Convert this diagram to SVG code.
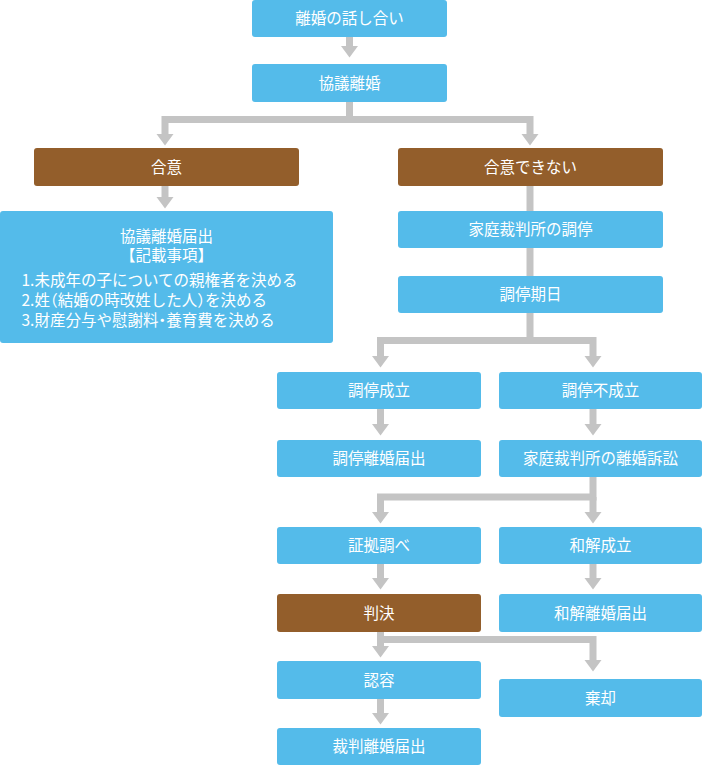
<svg xmlns="http://www.w3.org/2000/svg" width="702" height="766" viewBox="0 0 702 766">
<style>
.b{fill:#54BBEA}
.r{fill:#935E2B}
.t{fill:#ffffff;font-family:"Noto Sans CJK JP","Noto Sans",sans-serif;font-size:15.5px;text-anchor:middle}
.l{text-anchor:start}
.h{font-feature-settings:"halt"}
.c{fill:none;stroke:#C4C4C4;stroke-width:7;stroke-linejoin:miter}
</style>
<defs>
<marker id="ah" markerUnits="userSpaceOnUse" markerWidth="13" markerHeight="18" refX="1" refY="8.5" orient="auto" overflow="visible">
<path d="M0,0 L11.5,8.5 L0,17 z" fill="#C4C4C4"/>
</marker>
</defs>
<g id="connectors">
<path class="c" d="M349.5,37 V47" marker-end="url(#ah)"/>
<path class="c" d="M349.5,102 V119.5 H165 V135" marker-end="url(#ah)"/>
<path class="c" d="M349.5,119.5 H530 V135" marker-end="url(#ah)"/>
<path class="c" d="M165,186 V198" marker-end="url(#ah)"/>
<path class="c" d="M530,186 V211"/>
<path class="c" d="M530,248 V276"/>
<path class="c" d="M530,313 V340.5 H380.5 V357" marker-end="url(#ah)"/>
<path class="c" d="M530,340.5 H593 V357" marker-end="url(#ah)"/>
<path class="c" d="M380.5,409 V425" marker-end="url(#ah)"/>
<path class="c" d="M593,409 V425" marker-end="url(#ah)"/>
<path class="c" d="M593,477 V497 H380.5 V513" marker-end="url(#ah)"/>
<path class="c" d="M593,497 V513" marker-end="url(#ah)"/>
<path class="c" d="M380.5,564 V579" marker-end="url(#ah)"/>
<path class="c" d="M593,564 V579" marker-end="url(#ah)"/>
<path class="c" d="M380.5,632 V639.5 H593 V661" marker-end="url(#ah)"/>
<path class="c" d="M380.5,639.5 V647" marker-end="url(#ah)"/>
<path class="c" d="M380.5,699 V714" marker-end="url(#ah)"/>
</g>
<g id="n1"><rect class="b" x="252" y="0" width="195" height="37" rx="3"/><text class="t" x="349.5" y="24">離婚の話し合い</text></g>
<g id="n2"><rect class="b" x="252" y="64" width="195" height="38" rx="3"/><text class="t" x="349.5" y="88.5">協議離婚</text></g>
<g id="n3"><rect class="r" x="34" y="148" width="265" height="38" rx="3"/><text class="t" x="166.5" y="172.5">合意</text></g>
<g id="n4"><rect class="r" x="398" y="148" width="265" height="38" rx="3"/><text class="t" x="530.5" y="172.5">合意できない</text></g>
<g id="n5"><rect class="b" x="0" y="211" width="333" height="132" rx="3"/>
<text class="t" x="166.5" y="241.5">協議離婚届出</text>
<text class="t" x="166.5" y="260.5">【記載事項】</text>
<text class="t l" x="21.5" y="285.5">1.未成年の子についての親権者を決める</text>
<text class="t l h" x="21.5" y="306">2.姓（結婚の時改姓した人）を決める</text>
<text class="t l h" x="21.5" y="325.5">3.財産分与や慰謝料・養育費を決める</text>
</g>
<g id="n6"><rect class="b" x="398" y="211" width="265" height="37" rx="3"/><text class="t" x="530.5" y="235">家庭裁判所の調停</text></g>
<g id="n7"><rect class="b" x="398" y="276" width="265" height="37" rx="3"/><text class="t" x="530.5" y="300">調停期日</text></g>
<g id="n8"><rect class="b" x="277" y="372" width="204" height="37" rx="3"/><text class="t" x="379" y="396">調停成立</text></g>
<g id="n9"><rect class="b" x="499" y="372" width="203" height="37" rx="3"/><text class="t" x="600.5" y="396">調停不成立</text></g>
<g id="n10"><rect class="b" x="277" y="440" width="204" height="37" rx="3"/><text class="t" x="379" y="464">調停離婚届出</text></g>
<g id="n11"><rect class="b" x="499" y="440" width="203" height="37" rx="3"/><text class="t" x="600.5" y="464">家庭裁判所の離婚訴訟</text></g>
<g id="n12"><rect class="b" x="277" y="527" width="204" height="37" rx="3"/><text class="t" x="379" y="551">証拠調べ</text></g>
<g id="n13"><rect class="b" x="499" y="527" width="203" height="37" rx="3"/><text class="t" x="600.5" y="551">和解成立</text></g>
<g id="n14"><rect class="r" x="277" y="594" width="204" height="38" rx="3"/><text class="t" x="379" y="618.5">判決</text></g>
<g id="n15"><rect class="b" x="499" y="594" width="203" height="38" rx="3"/><text class="t" x="600.5" y="618.5">和解離婚届出</text></g>
<g id="n16"><rect class="b" x="277" y="661" width="204" height="38" rx="3"/><text class="t" x="379" y="685.5">認容</text></g>
<g id="n17"><rect class="b" x="499" y="679" width="203" height="38" rx="3"/><text class="t" x="600.5" y="703.5">棄却</text></g>
<g id="n18"><rect class="b" x="277" y="728" width="204" height="37" rx="3"/><text class="t" x="379" y="752">裁判離婚届出</text></g>
</svg>
